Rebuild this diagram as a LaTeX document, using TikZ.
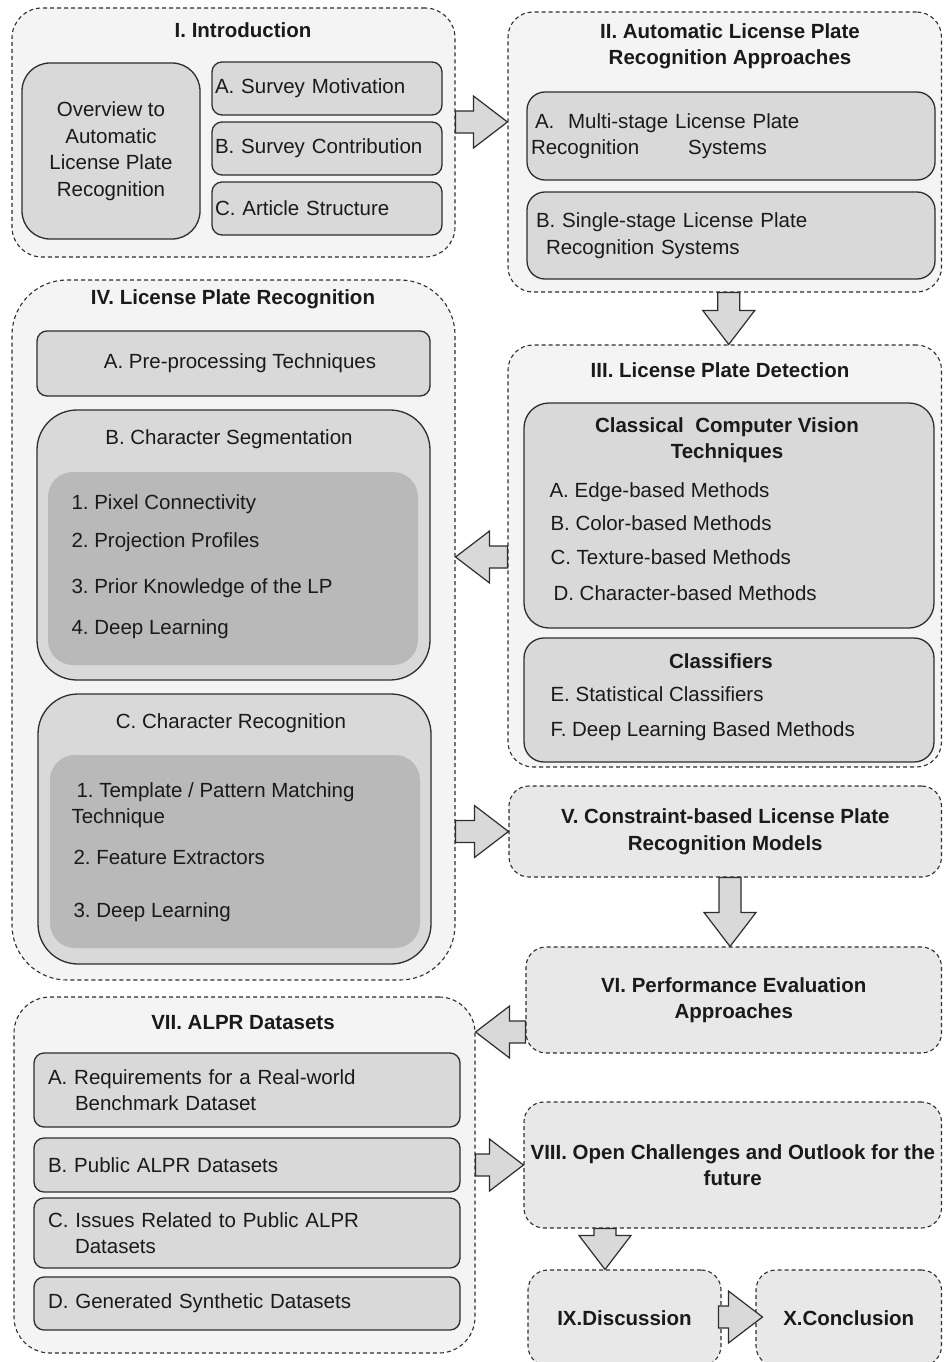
\documentclass[tikz,border=0pt]{standalone}
\usepackage{fontspec}
\setmainfont{Liberation Sans}
\usetikzlibrary{calc}

\definecolor{secfill}{HTML}{F4F4F4}
\definecolor{stepfill}{HTML}{E8E8E8}
\definecolor{itemfill}{HTML}{D9D9D9}
\definecolor{innerfill}{HTML}{B9B9B9}
\definecolor{edgegray}{HTML}{2E2E2E}
\definecolor{textgray}{HTML}{1A1A1A}

\def\shaftw{11}
\def\headw{26}
\def\headlen{34}

\tikzset{
  every node/.style={font=\frenchspacing\fontsize{20.5}{26.5}\selectfont, text=textgray},
  secbox/.style={draw=edgegray, line width=1.1pt, dash pattern=on 4pt off 3pt, fill=secfill, rounded corners=#1},
  secbox/.default=25pt,
  stepbox/.style={secbox=20pt, fill=stepfill, align=center, inner xsep=0pt, font=\frenchspacing\bfseries\fontsize{20.5}{26.5}\selectfont},
  itembox/.style={draw=edgegray, line width=1.3pt, fill=itemfill, rounded corners=#1, inner xsep=3pt, align=left},
  itembox/.default=10pt,
  innerbox/.style={fill=innerfill, rounded corners=25pt},
  sectitle/.style={font=\frenchspacing\bfseries\fontsize{20.5}{26.5}\selectfont, align=center},
  entry/.style={anchor=base west},
  bigarrow/.style={draw=edgegray, line width=1.2pt, fill=itemfill, line join=miter}
}

\newcommand{\blockarrow}[2]{%
  \draw[bigarrow] let \p1=#1, \p2=#2,
      \n1={veclen(\x2-\x1,\y2-\y1)},
      \n2={(\x2-\x1)/\n1}, \n3={(\y2-\y1)/\n1},
      \n4={\n1-\headlen}
    in ({\x1-\shaftw*\n3},{\y1+\shaftw*\n2})
    -- ({\x1+\n4*\n2-\shaftw*\n3},{\y1+\n4*\n3+\shaftw*\n2})
    -- ({\x1+\n4*\n2-\headw*\n3},{\y1+\n4*\n3+\headw*\n2})
    -- (\p2)
    -- ({\x1+\n4*\n2+\headw*\n3},{\y1+\n4*\n3-\headw*\n2})
    -- ({\x1+\n4*\n2+\shaftw*\n3},{\y1+\n4*\n3-\shaftw*\n2})
    -- ({\x1+\shaftw*\n3},{\y1-\shaftw*\n2}) -- cycle;
}

\begin{document}
\frenchspacing
\begin{tikzpicture}[x=1pt,y=-1pt]
    \useasboundingbox (0,0) rectangle (943,1362);
    \clip (0,0) rectangle (943,1362);

    % I. Introduction
    \node[secbox=30pt, minimum width=443pt, minimum height=249pt] (intro) at (233.5,132.5) {};
    \node[sectitle] (introtitle) at (243,30) {I. Introduction};
    \node[itembox=28pt, align=center, minimum width=178pt, minimum height=176pt] (overview) at (111,151) {Overview to\\Automatic\\License Plate\\Recognition};
    \node[itembox, minimum width=230pt, minimum height=53pt, text width=224pt] (motiv) at (327,88.5) {A. Survey Motivation};
    \node[itembox, minimum width=230pt, minimum height=53pt, text width=224pt] (contrib) at (327,148.5) {B. Survey Contribution};
    \node[itembox, minimum width=230pt, minimum height=53pt, text width=224pt] (artstruct) at (327,208.5) {C. Article Structure};

    % II. Approaches
    \node[secbox, minimum width=433.5pt, minimum height=280pt] (approaches) at (724.75,152) {};
    \node[sectitle] (approachestitle) at (730,46) {II. Automatic License Plate\\Recognition Approaches};
    \node[itembox=18pt, inner xsep=4pt, minimum width=408pt, minimum height=88pt, text width=400pt] (multistage) at (731,136) {\hspace*{4pt}A.\ \ Multi-stage License Plate\\Recognition\hspace*{49pt}Systems};
    \node[itembox=18pt, inner xsep=4pt, minimum width=408pt, minimum height=87pt, text width=400pt] (singlestage) at (731,235.5) {\hspace*{5pt}B. Single-stage License Plate\\\hspace*{15pt}Recognition Systems};

    % III. Detection
    \node[secbox, minimum width=433.5pt, minimum height=422pt] (detect) at (724.75,556) {};
    \node[sectitle] (detecttitle) at (720,370) {III. License Plate Detection};
    \node[itembox=25pt, minimum width=410pt, minimum height=225pt] (classic) at (729,515.5) {};
    \node[sectitle] (classictitle) at (727,440) {Classical\ \ Computer Vision\\Techniques};
    \foreach \txt/\xx/\yy [count=\i] in {A. Edge-based Methods/546/497, B. Color-based Methods/547/530, C. Texture-based Methods/547/564, D. Character-based Methods/550/600}
        \node[entry] (classic\i) at (\xx,\yy) {\txt};
    \node[itembox=20pt, minimum width=410pt, minimum height=124pt] (classif) at (729,700) {};
    \node[sectitle] (classiftitle) at (721,661) {Classifiers};
    \foreach \txt/\yy [count=\i] in {E. Statistical Classifiers/701, F. Deep Learning Based Methods/736}
        \node[entry] (classif\i) at (547,\yy) {\txt};

    % IV. Recognition
    \node[secbox=55pt, minimum width=443pt, minimum height=700pt] (recog) at (233.5,630) {};
    \node[sectitle] (recogtitle) at (233,299) {IV. License Plate Recognition};
    \node[itembox, minimum width=393pt, minimum height=65pt] (preproc) at (233.5,363.5) {\hspace*{13pt}A. Pre-processing Techniques};
    \node[itembox=40pt, minimum width=393pt, minimum height=270pt] (segm) at (233.5,545) {};
    \node (segmtitle) at (229,439) {B. Character Segmentation};
    \node[innerbox, minimum width=370pt, minimum height=193pt] (segin) at (233,568.5) {};
    \foreach \txt/\yy [count=\i] in {1. Pixel Connectivity/509, 2. Projection Profiles/547, 3. Prior Knowledge of the LP/593, 4. Deep Learning/634}
        \node[entry] (segm\i) at (68,\yy) {\txt};
    \node[itembox=40pt, minimum width=393pt, minimum height=270pt] (charrec) at (234.5,829) {};
    \node (charrectitle) at (231,723) {C. Character Recognition};
    \node[innerbox, minimum width=370pt, minimum height=193pt] (charin) at (235,851.5) {};
    \node[anchor=west, align=left] (charrec1) at (68,805) {\hspace*{5pt}1. Template / Pattern Matching\\Technique};
    \node[entry] (charrec2) at (70,864) {2. Feature Extractors};
    \node[entry] (charrec3) at (70,917) {3. Deep Learning};

    % V. - VI.
    \node[stepbox, minimum width=432.5pt, minimum height=91pt] (constr) at (725.25,831.5) {V. Constraint-based License Plate\\Recognition Models};
    \node[stepbox, minimum width=415.5pt, minimum height=106pt] (perf) at (733.75,1000) {VI. Performance Evaluation\\Approaches};

    % VII. Datasets
    \node[secbox=36pt, minimum width=461pt, minimum height=356pt] (datasets) at (244.5,1175) {};
    \node[sectitle] (datasetstitle) at (243,1023) {VII. ALPR Datasets};
    \node[itembox, inner xsep=14pt, minimum width=426pt, minimum height=74pt, text width=398pt] (reqs) at (247,1090) {A. Requirements for a Real-world\\\hspace*{27pt}Benchmark Dataset};
    \node[itembox, inner xsep=14pt, minimum width=426pt, minimum height=54pt, text width=398pt] (public) at (247,1165) {B. Public ALPR Datasets};
    \node[itembox, inner xsep=14pt, minimum width=426pt, minimum height=70pt, text width=398pt] (issues) at (247,1233) {C. Issues Related to Public ALPR\\\hspace*{27pt}Datasets};
    \node[itembox, inner xsep=14pt, minimum width=426pt, minimum height=53pt, text width=398pt] (synth) at (247,1303.5) {D. Generated Synthetic Datasets};

    % VIII. - X.
    \node[stepbox, minimum width=417.5pt, minimum height=126pt] (challenges) at (732.75,1165) {VIII. Open Challenges and Outlook for the\\future};
    \node[stepbox, minimum width=193pt, minimum height=96pt] (discuss) at (624.5,1318) {IX.Discussion};
    \node[stepbox, minimum width=185.5pt, minimum height=96pt] (concl) at (848.75,1318) {X.Conclusion};

    \blockarrow{($(intro.east)+(0,-10.5)$)}{($(approaches.west)+(0,-30)$)}
    \blockarrow{($(approaches.south)+(4,0)$)}{($(detect.north)+(4,0)$)}
    \blockarrow{($(detect.west)+(0,1)$)}{($(recog.east)+(0,-73)$)}
    \blockarrow{($(recog.east)+(0,201.5)$)}{(constr.west)}
    \blockarrow{($(constr.south)+(4.75,0)$)}{($(perf.north)+(-3.75,0)$)}
    \blockarrow{($(perf.west)+(0,32)$)}{($(datasets.east)+(0,-143)$)}
    \blockarrow{($(datasets.east)+(0,-10)$)}{(challenges.west)}
    \blockarrow{($(challenges.south)+(-127.75,0)$)}{($(discuss.north)+(-19.5,0)$)}
    \blockarrow{($(discuss.east)+(-3,-1)$)}{($(concl.west)+(7,-1)$)}

\end{tikzpicture}
\end{document}
